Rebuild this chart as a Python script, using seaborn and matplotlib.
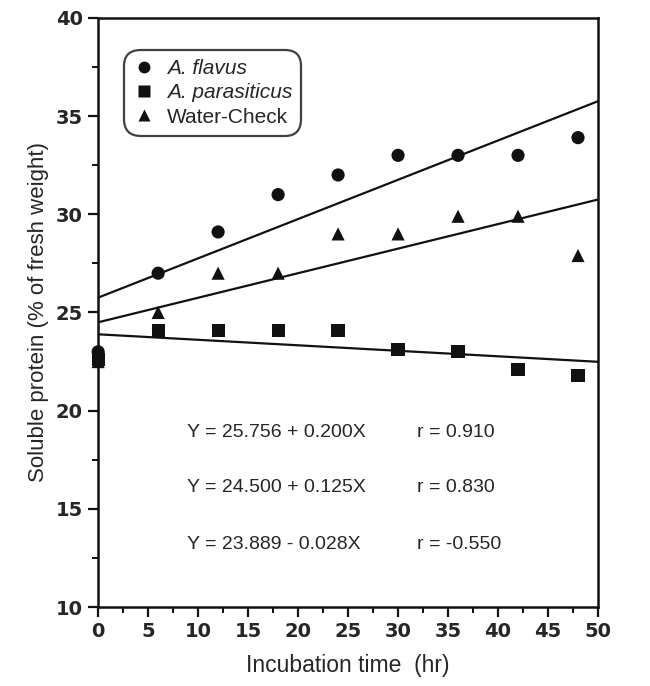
import numpy as np
import pandas as pd
import matplotlib.pyplot as plt
import seaborn as sns
from matplotlib.ticker import MultipleLocator

# incubation times (hr)
hours = [0, 6, 12, 18, 24, 30, 36, 42, 48]

# soluble protein (% of fresh weight)
flavus = [23.0, 27.0, 29.1, 31.0, 32.0, 33.0, 33.0, 33.0, 33.9]
parasiticus = [22.6, 24.1, 24.1, 24.1, 24.1, 23.1, 23.0, 22.1, 21.8]
water_check = [22.5, 25.0, 27.0, 27.0, 29.0, 29.0, 29.9, 29.9, 27.9]

groups = ["A. flavus", "A. parasiticus", "Water-Check"]

# regression lines given on the chart
intercepts = [25.756, 23.889, 24.500]
slopes = [0.200, -0.028, 0.125]
equations = ["Y = 25.756 + 0.200X", "Y = 24.500 + 0.125X", "Y = 23.889 - 0.028X"]
r_values = ["r = 0.910", "r = 0.830", "r = -0.550"]

sns.set_style("ticks")
plt.rcParams["font.family"] = ["Liberation Sans", "DejaVu Sans"]

df = pd.DataFrame({
    "hours": hours * 3,
    "protein": flavus + parasiticus + water_check,
    "group": [g for g in groups for _ in hours],
})

fit_x = [0, 50]
fit_df = pd.DataFrame({
    "hours": fit_x * 3,
    "protein": [b + m * x for b, m in zip(intercepts, slopes) for x in fit_x],
    "group": [g for g in groups for _ in fit_x],
})

fig = plt.figure(figsize=(6.5, 6.86), dpi=100)
ax = fig.add_axes([0.151, 0.115, 0.769, 0.859])

black = {g: "#111111" for g in groups}
sns.lineplot(data=fit_df, x="hours", y="protein", hue="group", palette=black,
             linewidth=1.6, legend=False, ax=ax, zorder=2)
sns.scatterplot(data=df, x="hours", y="protein", hue="group", style="group",
                palette=black, markers={"A. flavus": "o", "A. parasiticus": "s",
                                        "Water-Check": "^"},
                s=90, edgecolor="none", ax=ax, zorder=3, clip_on=False)

ax.set_xlim(0, 50)
ax.set_ylim(10, 40)
ax.xaxis.set_major_locator(MultipleLocator(5))
ax.xaxis.set_minor_locator(MultipleLocator(2.5))
ax.yaxis.set_major_locator(MultipleLocator(5))
ax.yaxis.set_minor_locator(MultipleLocator(2.5))
ax.tick_params(which="major", direction="out", length=7, width=1.6,
               color="#111111", pad=4)
ax.tick_params(which="minor", direction="out", length=4, width=1.4,
               color="#111111")
ax.set_xticks(ax.get_xticks())
ax.set_yticks(ax.get_yticks())
tick_font = dict(fontsize=14, fontweight="bold", family="DejaVu Sans")
ax.set_xticklabels([f"{v:g}" for v in ax.get_xticks()], **tick_font)
ax.set_yticklabels([f"{v:g}" for v in ax.get_yticks()], **tick_font)
ax.set_xlim(0, 50)
ax.set_ylim(10, 40)
for sp in ax.spines.values():
    sp.set_visible(True)
    sp.set_linewidth(1.8)
    sp.set_color("#111111")

ax.set_xlabel("Incubation time  (hr)", fontsize=16.5, labelpad=9)
ax.set_ylabel("Soluble protein (% of fresh weight)", fontsize=16, labelpad=5)

ys = [18.9, 16.1, 13.2]
for eq, r, y in zip(equations, r_values, ys):
    ax.text(8.9, y, eq, fontsize=14, va="center", ha="left")
    ax.text(31.9, y, r, fontsize=14, va="center", ha="left")

leg = ax.legend(loc="upper left", bbox_to_anchor=(0.035, 0.96), frameon=True,
                fancybox=True, edgecolor="#111111", fontsize=15,
                handletextpad=0.6, borderpad=0.35, labelspacing=0.25,
                handlelength=1.0, markerscale=0.9)
leg.get_frame().set_linewidth(1.6)
leg.get_frame().set_boxstyle("round,pad=0.1,rounding_size=0.8")
for t in leg.get_texts():
    if t.get_text().startswith("A."):
        t.set_fontstyle("italic")

fig.savefig("out.png", dpi=100)
